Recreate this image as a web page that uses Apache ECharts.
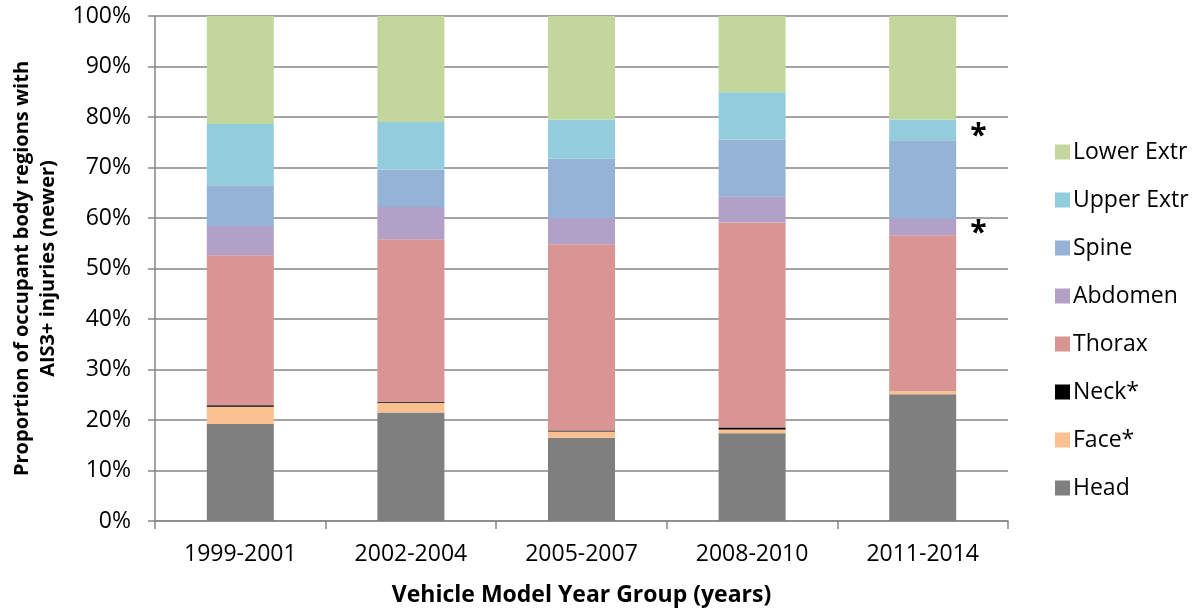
<!DOCTYPE html>
<html>
<head>
<meta charset="utf-8">
<script src="https://cdn.jsdelivr.net/npm/echarts@6/dist/echarts.min.js"></script>
<style>html,body{margin:0;padding:0;background:#fff;}#c{width:1198px;height:612px;}</style>
</head>
<body>
<div id="c"></div>
<script>
const categories = ['1999-2001', '2002-2004', '2005-2007', '2008-2010', '2011-2014'];
const head      = [19.2, 21.5, 16.5, 17.4, 25.1];
const face      = [3.4, 1.9, 1.2, 0.7, 0.6];
const neck      = [0.3, 0.2, 0.2, 0.4, 0.0];
const thorax    = [29.7, 32.2, 36.9, 40.6, 30.9];
const abdomen   = [5.8, 6.4, 5.2, 5.1, 3.3];
const spine     = [8.1, 7.4, 11.8, 11.3, 15.5];
const upperExtr = [12.1, 9.4, 7.7, 9.4, 4.1];
const lowerExtr = [21.4, 21.0, 20.5, 15.1, 20.5];
const seriesNames = ['Head', 'Face*', 'Neck*', 'Thorax', 'Abdomen', 'Spine', 'Upper Extr', 'Lower Extr'];
const seriesValues = [head, face, neck, thorax, abdomen, spine, upperExtr, lowerExtr];
const colors = ['#7f7f7f', '#fac090', '#000000', '#d99594', '#b2a1c7', '#95b3d7', '#93cddd', '#c3d69b'];
const starredSeries = ['Abdomen', 'Upper Extr'];
const yTicks = [0, 10, 20, 30, 40, 50, 60, 70, 80, 90, 100];

const FONT = '"Open Sans", sans-serif';
const series = seriesNames.map((name, i) => ({
  name: name,
  type: 'bar',
  stack: 'total',
  barWidth: 67,
  itemStyle: { color: colors[i] },
  data: seriesValues[i].map((v, j) => {
    if (starredSeries.includes(name) && j === categories.length - 1) {
      return { value: v, label: { show: true, position: 'right', distance: 14, formatter: '*',
        color: '#000', fontSize: 30, fontWeight: 'bold', fontFamily: FONT, offset: [0, 7] } };
    }
    return v;
  })
}));

const chart = echarts.init(document.getElementById('c'), null, { renderer: 'canvas' });
chart.setOption({
  animation: false,
  backgroundColor: '#fff',
  color: colors,
  grid: { left: 155, right: 190, top: 16, bottom: 91, containLabel: false },
  legend: {
    orient: 'vertical',
    left: 1050,
    top: 135,
    itemWidth: 15,
    itemHeight: 15,
    itemGap: 24,
    icon: 'rect',
    data: seriesNames.slice().reverse(),
    textStyle: { fontFamily: FONT, fontSize: 23, color: '#000', lineHeight: 24, padding: [0, 0, 0, -2] }
  },
  xAxis: {
    type: 'category',
    data: categories,
    name: 'Vehicle Model Year Group (years)',
    nameLocation: 'middle',
    nameGap: 63,
    nameTextStyle: { fontFamily: FONT, fontSize: 23, fontWeight: 'bold', color: '#000' },
    axisLine: { lineStyle: { color: '#868686', width: 1.5 } },
    axisTick: { show: true, length: 8, lineStyle: { color: '#868686', width: 1.5 } },
    axisLabel: { fontFamily: FONT, fontSize: 23, color: '#000', margin: 22 }
  },
  yAxis: {
    type: 'value',
    min: yTicks[0],
    max: yTicks[yTicks.length - 1],
    interval: 10,
    name: 'Proportion of occupant body regions with\nAIS3+ injuries (newer)',
    nameLocation: 'middle',
    nameGap: 94,
    nameTextStyle: { fontFamily: FONT, fontSize: 20, fontWeight: 'bold', color: '#000', lineHeight: 26 },
    axisLine: { show: true, lineStyle: { color: '#868686', width: 1.5 } },
    axisTick: { show: true, length: 7, lineStyle: { color: '#868686', width: 1.5 } },
    axisLabel: { fontFamily: FONT, fontSize: 23, color: '#000', margin: 24, formatter: '{value}%' },
    splitLine: { show: true, lineStyle: { color: '#868686', width: 1.5 } }
  },
  series: series
});
</script>
</body>
</html>
